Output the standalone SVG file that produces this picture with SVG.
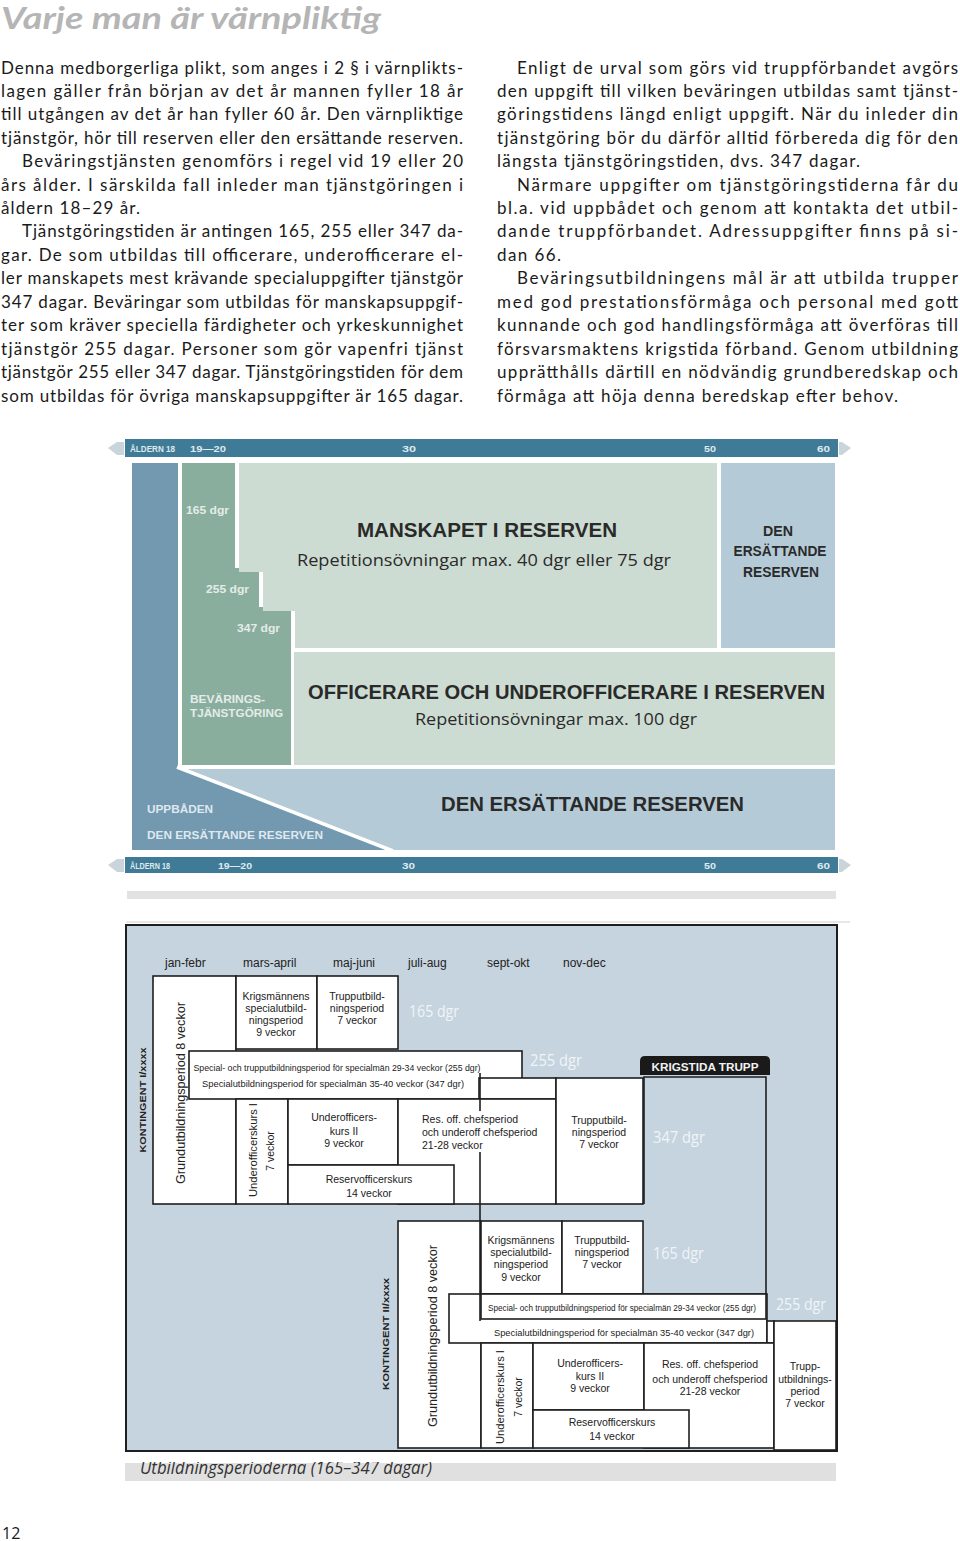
<svg xmlns="http://www.w3.org/2000/svg" width="960" height="1541" viewBox="0 0 960 1541">
<style>
.body{font-family:Lato,"Open Sans","Liberation Sans",sans-serif;font-size:17px;fill:#1a1a1a}
.title{font-family:Lato,"Open Sans","Liberation Sans",sans-serif;font-size:31px;font-weight:bold;font-style:italic;fill:#b5b5b5}
.ax{font-family:"Liberation Sans",sans-serif;font-size:9px;font-weight:bold;fill:#dfe9ee}
.big{font-family:"Liberation Sans",sans-serif;font-size:21px;font-weight:bold;fill:#2a2a2a}
.sub{font-family:"Open Sans","Liberation Sans",sans-serif;font-size:17px;fill:#2a2a2a}
.mid{font-family:"Liberation Sans",sans-serif;font-size:14px;font-weight:bold;fill:#2a2a2a}
.lbl{font-family:"Liberation Sans",sans-serif;font-size:10.5px;font-weight:bold;fill:#e4ece8}
.box{fill:#ffffff;stroke:#1e1e1e;stroke-width:1.6}
.ln{fill:none;stroke:#1e1e1e;stroke-width:1.6}
.t{font-family:"Liberation Sans",sans-serif;font-size:10.5px;fill:#222;text-anchor:middle}
.ts{font-family:"Liberation Sans",sans-serif;font-size:9px;fill:#222;text-anchor:middle}
.mo{font-family:"Liberation Sans",sans-serif;font-size:12px;fill:#222}
.dgr{font-family:"Open Sans","Liberation Sans",sans-serif;font-size:16px;fill:#f0f4f7}
.kt{font-family:"Liberation Sans",sans-serif;font-size:9.5px;font-weight:bold;fill:#222;text-anchor:middle}
</style>
<defs>
<clipPath id="capclip"><rect x="120" y="1462" width="720" height="30"/></clipPath>
</defs>

<g id="title"><text class="title" x="1" y="29" textLength="380" lengthAdjust="spacingAndGlyphs">Varje man är värnpliktig</text></g>

<g id="text-left">
<text class="body" x="1" y="74" textLength="462" lengthAdjust="spacing">Denna medborgerliga plikt, som anges i 2 § i värnplikts-</text>
<text class="body" x="1" y="97" textLength="462" lengthAdjust="spacing">lagen gäller från början av det år mannen fyller 18 år</text>
<text class="body" x="1" y="120" textLength="462" lengthAdjust="spacing">till utgången av det år han fyller 60 år. Den värnpliktige</text>
<text class="body" x="1" y="144" textLength="462" lengthAdjust="spacing">tjänstgör, hör till reserven eller den ersättande reserven.</text>
<text class="body" x="22" y="167" textLength="441" lengthAdjust="spacing">Beväringstjänsten genomförs i regel vid 19 eller 20</text>
<text class="body" x="1" y="191" textLength="462" lengthAdjust="spacing">års ålder. I särskilda fall inleder man tjänstgöringen i</text>
<text class="body" x="1" y="214" textLength="139" lengthAdjust="spacing">åldern 18–29 år.</text>
<text class="body" x="22" y="237" textLength="441" lengthAdjust="spacing">Tjänstgöringstiden är antingen 165, 255 eller 347 da-</text>
<text class="body" x="1" y="261" textLength="462" lengthAdjust="spacing">gar. De som utbildas till officerare, underofficerare el-</text>
<text class="body" x="1" y="284" textLength="462" lengthAdjust="spacing">ler manskapets mest krävande specialuppgifter tjänstgör</text>
<text class="body" x="1" y="308" textLength="462" lengthAdjust="spacing">347 dagar. Beväringar som utbildas för manskapsuppgif-</text>
<text class="body" x="1" y="331" textLength="462" lengthAdjust="spacing">ter som kräver speciella färdigheter och yrkeskunnighet</text>
<text class="body" x="1" y="355" textLength="462" lengthAdjust="spacing">tjänstgör 255 dagar. Personer som gör vapenfri tjänst</text>
<text class="body" x="1" y="378" textLength="462" lengthAdjust="spacing">tjänstgör 255 eller 347 dagar. Tjänstgöringstiden för dem</text>
<text class="body" x="1" y="402" textLength="462" lengthAdjust="spacing">som utbildas för övriga manskapsuppgifter är 165 dagar.</text>
</g>

<g id="text-right">
<text class="body" x="517" y="74" textLength="441" lengthAdjust="spacing">Enligt de urval som görs vid truppförbandet avgörs</text>
<text class="body" x="497" y="97" textLength="461" lengthAdjust="spacing">den uppgift till vilken beväringen utbildas samt tjänst-</text>
<text class="body" x="497" y="120" textLength="461" lengthAdjust="spacing">göringstidens längd enligt uppgift. När du inleder din</text>
<text class="body" x="497" y="144" textLength="461" lengthAdjust="spacing">tjänstgöring bör du därför alltid förbereda dig för den</text>
<text class="body" x="497" y="167" textLength="363" lengthAdjust="spacing">längsta tjänstgöringstiden, dvs. 347 dagar.</text>
<text class="body" x="517" y="191" textLength="441" lengthAdjust="spacing">Närmare uppgifter om tjänstgöringstiderna får du</text>
<text class="body" x="497" y="214" textLength="461" lengthAdjust="spacing">bl.a. vid uppbådet och genom att kontakta det utbil-</text>
<text class="body" x="497" y="237" textLength="461" lengthAdjust="spacing">dande truppförbandet. Adressuppgifter finns på si-</text>
<text class="body" x="497" y="261" textLength="64" lengthAdjust="spacing">dan 66.</text>
<text class="body" x="517" y="284" textLength="441" lengthAdjust="spacing">Beväringsutbildningens mål är att utbilda trupper</text>
<text class="body" x="497" y="308" textLength="461" lengthAdjust="spacing">med god prestationsförmåga och personal med gott</text>
<text class="body" x="497" y="331" textLength="461" lengthAdjust="spacing">kunnande och god handlingsförmåga att överföras till</text>
<text class="body" x="497" y="355" textLength="461" lengthAdjust="spacing">försvarsmaktens krigstida förband. Genom utbildning</text>
<text class="body" x="497" y="378" textLength="461" lengthAdjust="spacing">upprätthålls därtill en nödvändig grundberedskap och</text>
<text class="body" x="497" y="402" textLength="401" lengthAdjust="spacing">förmåga att höja denna beredskap efter behov.</text>
</g>

<!-- top chart -->
<g id="axis-top">
<polygon points="108,448 117,442 124,442 124,455 117,455" fill="#c9d5db"/>
<polygon points="851,448 842,442 839,442 839,455 842,455" fill="#c9d5db"/>
<rect x="125" y="439" width="713" height="18" fill="#3f7b96"/>
<text class="ax" x="130" y="452" textLength="45" lengthAdjust="spacingAndGlyphs">ÅLDERN 18</text>
<text class="ax" x="190" y="452" textLength="36" lengthAdjust="spacingAndGlyphs">19—20</text>
<text class="ax" x="402" y="452" textLength="14" lengthAdjust="spacingAndGlyphs">30</text>
<text class="ax" x="704" y="452" textLength="12" lengthAdjust="spacingAndGlyphs">50</text>
<text class="ax" x="817" y="452" textLength="13" lengthAdjust="spacingAndGlyphs">60</text>
</g>

<g id="uppbaden">
<polygon points="132,463 178,463 178,768 390,850 132,850" fill="#7299b0"/>
<text class="lbl" x="147" y="813" style="fill:#dfe8ee" textLength="66" lengthAdjust="spacingAndGlyphs">UPPBÅDEN</text>
<text class="lbl" x="147" y="839" style="fill:#dfe8ee" textLength="176" lengthAdjust="spacingAndGlyphs">DEN ERSÄTTANDE RESERVEN</text>
</g>

<g id="ersattande-bottom">
<polygon points="178,769 835,769 835,850 390,850" fill="#b5cad7"/>
<line x1="177" y1="767" x2="393" y2="851" stroke="#ffffff" stroke-width="3.5"/>
<text class="big" x="441" y="811" textLength="303" lengthAdjust="spacingAndGlyphs">DEN ERSÄTTANDE RESERVEN</text>
</g>

<g id="bevaringstjanstgoring">
<polygon points="182,463 235,463 235,568 259,568 259,607 291,607 291,765 182,765" fill="#8aae9e"/>
<text class="lbl" x="186" y="514" textLength="43" lengthAdjust="spacingAndGlyphs">165 dgr</text>
<text class="lbl" x="206" y="593" textLength="43" lengthAdjust="spacingAndGlyphs">255 dgr</text>
<text class="lbl" x="237" y="632" textLength="43" lengthAdjust="spacingAndGlyphs">347 dgr</text>
<text class="lbl" x="190" y="703" textLength="75" lengthAdjust="spacingAndGlyphs">BEVÄRINGS-</text>
<text class="lbl" x="190" y="717" textLength="93" lengthAdjust="spacingAndGlyphs">TJÄNSTGÖRING</text>
</g>

<g id="manskapet">
<polygon points="239,463 717,463 717,648 295,648 295,611 263,611 263,572 239,572" fill="#cddcd2"/>
<text class="big" x="357" y="537" textLength="260" lengthAdjust="spacingAndGlyphs">MANSKAPET I RESERVEN</text>
<text class="sub" x="297" y="566" textLength="374" lengthAdjust="spacingAndGlyphs">Repetitionsövningar max. 40 dgr eller 75 dgr</text>
</g>

<g id="ersattande-right">
<rect x="721" y="463" width="114" height="185" fill="#b5cad7"/>
<text class="mid" x="778" y="536" text-anchor="middle" textLength="30" lengthAdjust="spacingAndGlyphs">DEN</text>
<text class="mid" x="780" y="556" text-anchor="middle" textLength="93" lengthAdjust="spacingAndGlyphs">ERSÄTTANDE</text>
<text class="mid" x="781" y="577" text-anchor="middle" textLength="76" lengthAdjust="spacingAndGlyphs">RESERVEN</text>
</g>

<g id="officerare">
<rect x="294" y="652" width="541" height="113" fill="#cddcd2"/>
<text class="big" x="308" y="699" textLength="517" lengthAdjust="spacingAndGlyphs">OFFICERARE OCH UNDEROFFICERARE I RESERVEN</text>
<text class="sub" x="415" y="725" textLength="282" lengthAdjust="spacingAndGlyphs">Repetitionsövningar max. 100 dgr</text>
</g>

<g id="axis-bottom">
<polygon points="108,865 117,859 124,859 124,872 117,872" fill="#c9d5db"/>
<polygon points="851,865 842,859 839,859 839,872 842,872" fill="#c9d5db"/>
<rect x="125" y="857" width="713" height="16" fill="#3f7b96"/>
<text class="ax" x="130" y="869" textLength="40" lengthAdjust="spacingAndGlyphs">ÅLDERN 18</text>
<text class="ax" x="218" y="869" textLength="34" lengthAdjust="spacingAndGlyphs">19—20</text>
<text class="ax" x="402" y="869" textLength="13" lengthAdjust="spacingAndGlyphs">30</text>
<text class="ax" x="704" y="869" textLength="12" lengthAdjust="spacingAndGlyphs">50</text>
<text class="ax" x="817" y="869" textLength="13" lengthAdjust="spacingAndGlyphs">60</text>
</g>
<rect x="127" y="891" width="709" height="8" fill="#e2e2e2"/>

<!-- second chart -->
<line x1="126" y1="922" x2="850" y2="922" stroke="#d0d0d0" stroke-width="1"/>
<g id="frame">
<rect x="126" y="925" width="711" height="526" fill="#c6d4df" stroke="#1e1e1e" stroke-width="2"/>
<text class="mo" x="165" y="967">jan-febr</text>
<text class="mo" x="243" y="967">mars-april</text>
<text class="mo" x="333" y="967">maj-juni</text>
<text class="mo" x="408" y="967">juli-aug</text>
<text class="mo" x="487" y="967">sept-okt</text>
<text class="mo" x="563" y="967">nov-dec</text>
</g>

<g id="kontingent1">
<text class="kt" transform="translate(142,1100) rotate(-90)" dy="3.5" textLength="105" lengthAdjust="spacingAndGlyphs">KONTINGENT I/xxxx</text>
<g id="k1-grundutb">
<rect class="box" x="153" y="976" width="83" height="228"/>
<text class="t" transform="translate(180,1093) rotate(-90)" dy="4.5" style="font-size:13px" textLength="182" lengthAdjust="spacingAndGlyphs">Grundutbildningsperiod 8 veckor</text>
</g>
<g id="k1-krigsman">
<rect class="box" x="236" y="976" width="81" height="73"/>
<text class="t" x="276" y="1000">Krigsmännens</text>
<text class="t" x="276" y="1012">specialutbild-</text>
<text class="t" x="276" y="1024">ningsperiod</text>
<text class="t" x="276" y="1036">9 veckor</text>
</g>
<g id="k1-trupp">
<rect class="box" x="317" y="976" width="81" height="73"/>
<text class="t" x="357" y="1000">Trupputbild-</text>
<text class="t" x="357" y="1012">ningsperiod</text>
<text class="t" x="357" y="1024">7 veckor</text>
</g>
<text class="dgr" x="409" y="1017" textLength="50" lengthAdjust="spacingAndGlyphs">165 dgr</text>
<g id="k1-special">
<rect class="box" x="189" y="1051" width="333" height="48"/>
<rect class="box" x="479" y="1078" width="77" height="21"/>
<text class="ts" x="337" y="1071" textLength="287" lengthAdjust="spacingAndGlyphs">Special- och trupputbildningsperiod för specialmän 29-34 veckor (255 dgr)</text>
<text class="ts" x="333" y="1087" textLength="262" lengthAdjust="spacingAndGlyphs">Specialutbildningsperiod för specialmän 35-40 veckor (347 dgr)</text>
</g>
<text class="dgr" x="530" y="1066" textLength="52" lengthAdjust="spacingAndGlyphs">255 dgr</text>
<g id="k1-uoi">
<rect class="box" x="236" y="1099" width="52" height="105"/>
<text class="t" transform="translate(253,1150) rotate(-90)" dy="3.5" textLength="94" lengthAdjust="spacingAndGlyphs">Underofficerskurs I</text>
<text class="t" transform="translate(270,1151) rotate(-90)" dy="3.5">7 veckor</text>
</g>
<g id="k1-uoii">
<rect class="box" x="288" y="1099" width="110" height="66"/>
<text class="t" x="344" y="1121">Underofficers-</text>
<text class="t" x="344" y="1135">kurs II</text>
<text class="t" x="344" y="1147">9 veckor</text>
</g>
<g id="k1-resoff">
<rect class="box" x="398" y="1099" width="158" height="105"/>
<text class="t" x="422" y="1123" style="text-anchor:start">Res. off. chefsperiod</text>
<text class="t" x="422" y="1136" style="text-anchor:start">och underoff chefsperiod</text>
<text class="t" x="422" y="1149" style="text-anchor:start">21-28 veckor</text>
</g>
<g id="k1-reservoff">
<rect class="box" x="288" y="1165" width="166" height="39"/>
<text class="t" x="369" y="1183">Reservofficerskurs</text>
<text class="t" x="369" y="1197">14 veckor</text>
</g>
<g id="k1-trupp2">
<rect class="box" x="556" y="1078" width="87" height="126"/>
<text class="t" x="599" y="1124">Trupputbild-</text>
<text class="t" x="599" y="1136">ningsperiod</text>
<text class="t" x="599" y="1148">7 veckor</text>
</g>
</g>

<g id="krigstida-trupp">
<path d="M640,1075 L640,1061 Q640,1056 645,1056 L765,1056 Q770,1056 770,1061 L770,1075 Z" fill="#1a1a1a"/>
<text x="705" y="1071" text-anchor="middle" style="font-family:'Liberation Sans',sans-serif;font-size:11px;font-weight:bold;fill:#f2f2f2" textLength="107" lengthAdjust="spacingAndGlyphs">KRIGSTIDA TRUPP</text>
<polyline class="ln" points="644,1204 644,1077 766,1077 766,1320"/>
<text class="dgr" x="653" y="1143" textLength="52" lengthAdjust="spacingAndGlyphs">347 dgr</text>
</g>

<g id="kontingent2">
<text class="kt" transform="translate(385,1334) rotate(-90)" dy="3.5" textLength="112" lengthAdjust="spacingAndGlyphs">KONTINGENT II/xxxx</text>
<g id="k2-grundutb">
<rect class="box" x="398" y="1221" width="83" height="227"/>
<text class="t" transform="translate(432,1336) rotate(-90)" dy="4.5" style="font-size:13px" textLength="182" lengthAdjust="spacingAndGlyphs">Grundutbildningsperiod 8 veckor</text>
</g>
<g id="k2-krigsman">
<rect class="box" x="481" y="1221" width="81" height="73"/>
<text class="t" x="521" y="1244">Krigsmännens</text>
<text class="t" x="521" y="1256">specialutbild-</text>
<text class="t" x="521" y="1268">ningsperiod</text>
<text class="t" x="521" y="1281">9 veckor</text>
</g>
<g id="k2-trupp">
<rect class="box" x="562" y="1221" width="81" height="73"/>
<text class="t" x="602" y="1244">Trupputbild-</text>
<text class="t" x="602" y="1256">ningsperiod</text>
<text class="t" x="602" y="1268">7 veckor</text>
</g>
<text class="dgr" x="653" y="1259" textLength="51" lengthAdjust="spacingAndGlyphs">165 dgr</text>
<g id="k2-special">
<rect class="box" x="449" y="1294" width="318" height="49"/>
<rect class="box" x="481" y="1294" width="285" height="25"/>
<rect class="box" x="767" y="1321" width="7" height="22"/>
<text class="ts" x="622" y="1311" textLength="268" lengthAdjust="spacingAndGlyphs">Special- och trupputbildningsperiod för specialmän 29-34 veckor (255 dgr)</text>
<text class="ts" x="624" y="1336" textLength="260" lengthAdjust="spacingAndGlyphs">Specialutbildningsperiod för specialmän 35-40 veckor (347 dgr)</text>
</g>
<text class="dgr" x="776" y="1310" textLength="50" lengthAdjust="spacingAndGlyphs">255 dgr</text>
<g id="k2-uoi">
<rect class="box" x="481" y="1343" width="52" height="105"/>
<text class="t" transform="translate(500,1397) rotate(-90)" dy="3.5" textLength="94" lengthAdjust="spacingAndGlyphs">Underofficerskurs I</text>
<text class="t" transform="translate(518,1397) rotate(-90)" dy="3.5">7 veckor</text>
</g>
<g id="k2-uoii">
<rect class="box" x="533" y="1343" width="111" height="67"/>
<text class="t" x="590" y="1367">Underofficers-</text>
<text class="t" x="590" y="1380">kurs II</text>
<text class="t" x="590" y="1392">9 veckor</text>
</g>
<g id="k2-resoff">
<rect class="box" x="644" y="1343" width="130" height="105"/>
<text class="t" x="710" y="1368">Res. off. chefsperiod</text>
<text class="t" x="710" y="1383">och underoff chefsperiod</text>
<text class="t" x="710" y="1395">21-28   veckor</text>
</g>
<g id="k2-reservoff">
<rect class="box" x="533" y="1410" width="156" height="38"/>
<text class="t" x="612" y="1426">Reservofficerskurs</text>
<text class="t" x="612" y="1440">14 veckor</text>
</g>
<g id="k2-trupp-right">
<rect class="box" x="774" y="1321" width="62" height="129"/>
<text class="t" x="805" y="1370">Trupp-</text>
<text class="t" x="805" y="1383">utbildnings-</text>
<text class="t" x="805" y="1395">period</text>
<text class="t" x="805" y="1407">7 veckor</text>
</g>
</g>

<g id="connectors">
<line class="ln" x1="480" y1="1073" x2="480" y2="1111"/>
<line class="ln" x1="480" y1="1152" x2="480" y2="1321"/>
</g>

<g id="caption">
<rect x="125" y="1463" width="711" height="18" fill="#e0e0e0"/>
<text x="140" y="1474" clip-path="url(#capclip)" style="font-family:'Open Sans','Liberation Sans',sans-serif;font-size:19px;font-style:italic;fill:#333" textLength="292" lengthAdjust="spacingAndGlyphs">Utbildningsperioderna (165–347 dagar)</text>
</g>

<g id="page"><text x="2" y="1539" style="font-family:'Open Sans','Liberation Sans',sans-serif;font-size:16px;fill:#1a1a1a">12</text></g>
</svg>
